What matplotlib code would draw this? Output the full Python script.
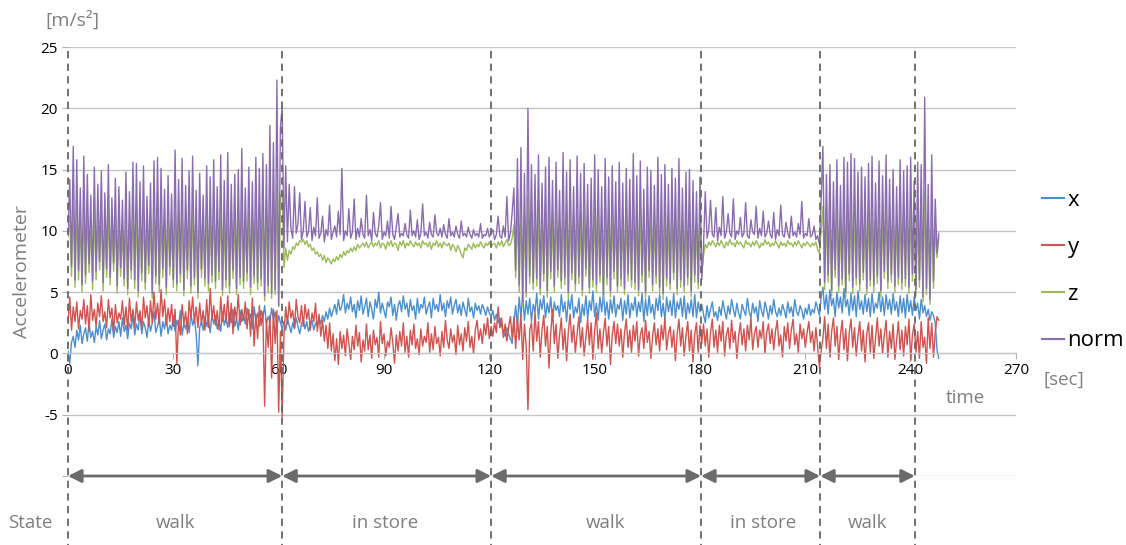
import numpy as np
import matplotlib
matplotlib.use("Agg")
import matplotlib.pyplot as plt
from matplotlib.lines import Line2D

plt.rcParams["font.family"] = ["Open Sans", "DejaVu Sans"]

STEP = 0.5  # seconds between samples

# accelerometer readings, one value every 0.5 s (t = 0 .. 248 s)
acc_x = [
    0.2, -0.8, 0.9, 1.4, 0.5, 1.9, 1.1, 2.3, 0.8, 1.6, 2.1, 1.0, 2.5, 1.3, 1.8, 0.9, 2.2, 1.5, 2.7, 1.2,
    1.9, 2.4, 1.1, 2.0, 1.6, 2.8, 1.3, 2.2, 1.7, 2.6, 1.4, 2.9, 1.8, 2.3, 1.2, 2.5, 2.0, 3.1, 1.5, 2.4,
    1.9, 3.3, 1.6, 2.6, 2.1, 1.3, 2.8, 1.8, 2.5, 3.4, 1.7, 2.2, 2.9, 1.4, 2.6, 2.0, 3.0, 1.6, 2.3, 1.9,
    3.1, 1.8, 2.7, 2.2, 3.5, 1.5, 2.4, 2.0, 2.9, 1.7, 3.2, 2.3, 2.8, 1.6, -1.0, 2.1, 2.6, 1.9, 3.0, 2.2,
    2.8, 1.7, 3.2, 2.4, 3.1, 2.0, 2.7, 1.8, 3.4, 2.3, 2.9, 2.1, 3.3, 2.5, 3.6, 2.2, 2.8, 1.9, 3.5, 2.6,
    3.1, 2.4, 3.7, 2.8, 3.2, 2.0, 3.8, 2.7, 3.3, 2.2, 3.5, 2.9, 3.9, 2.4, 3.0, 2.6, 3.7, 2.8, 3.4, 2.1,
    3.1, 2.5, 2.0,
    2.6, 1.9, 2.8, 2.3, 1.7, 2.5, 2.0, 2.9, 2.2, 1.6, 2.4, 2.8, 2.0, 2.6, 1.8, 2.3, 2.7, 1.9, 2.5, 2.2,
    2.9, 2.4, 3.1, 2.6, 3.4, 2.8, 3.7, 3.0, 3.5, 4.0, 3.2, 4.4, 3.5, 3.9, 4.8, 3.3, 4.1, 3.6, 4.6, 3.4,
    4.0, 2.9, 4.3, 3.5, 4.7, 3.2, 3.8, 4.5, 3.0, 4.2, 3.6, 2.8, 4.4, 3.7, 5.0, 3.3, 4.1, 3.5, 2.9, 4.2,
    3.8, 4.6, 3.1, 4.0, 2.7, 3.9, 4.3, 3.4, 4.7, 3.6, 4.1, 3.0, 4.4, 3.5, 3.9, 2.8, 4.5, 3.3, 4.0, 3.7,
    4.6, 3.2, 3.8, 4.2, 2.9, 4.5, 3.6, 4.0, 3.4, 4.8, 3.5, 4.1, 3.0, 4.3, 3.7, 4.6, 3.2, 3.9, 4.4, 3.3,
    4.0, 3.1, 4.2, 3.6, 3.0, 4.5, 3.4, 3.8, 2.9, 4.1, 3.5, 3.9, 3.2, 4.0, 3.6, 3.1, 3.8, 3.3, 3.0, 3.5,
    2.7, 3.2, 2.5, 2.9, 2.2, 1.8, 1.4, 2.1, 1.6, 1.2, 0.8,
    2.5, 3.9, 2.2, 4.6, 3.0, 4.8, 2.7, 4.3, 3.2, 4.5, 2.6, 4.0, 3.4, 4.9, 2.8, 4.4, 3.6, 4.7, 2.9, 4.1,
    3.3, 4.6, 2.7, 4.2, 3.5, 3.9, 3.0, 4.8, 3.4, 4.2, 2.6, 4.4, 3.6, 4.8, 2.9, 3.8, 3.3, 4.5, 2.5, 4.0,
    3.1, 4.7, 2.8, 4.3, 3.5, 5.1, 3.0, 4.1, 2.7, 4.6, 3.4, 4.9, 3.1, 4.2, 2.8, 4.4, 3.3, 4.7, 3.0, 4.0,
    3.6, 4.5, 2.7, 4.3, 3.2, 4.8, 2.9, 4.1, 3.5, 4.6, 3.0, 4.2, 3.4, 4.9, 2.6, 4.4, 3.1, 4.7, 3.3, 4.0,
    2.8, 4.5, 3.5, 4.8, 3.0, 4.1, 2.7, 4.6, 3.4, 4.3, 3.1, 4.9, 2.9, 4.2, 3.6, 4.5, 3.0, 4.7, 2.8, 4.1,
    3.3, 4.4, 3.0, 4.8, 2.9, 4.2, 3.4, 4.0,
    3.2, 2.5, 3.9, 2.9, 3.6, 4.2, 3.0, 3.4, 2.7, 3.8, 3.1, 4.3, 3.5, 2.8, 3.9, 3.2, 4.4, 3.6, 3.0, 4.1,
    3.3, 2.8, 4.0, 3.5, 3.1, 4.5, 3.4, 2.9, 4.1, 3.3, 3.8, 2.6, 4.3, 3.5, 3.0, 4.2, 3.6, 2.8, 3.9, 3.2,
    4.4, 3.4, 3.0, 3.7, 3.1, 4.0, 3.5, 2.9, 4.2, 3.3, 3.8, 3.0, 4.4, 3.4, 3.1, 3.9, 3.5, 2.8, 3.7, 3.2,
    4.0, 3.1, 3.6, 3.3, 4.2, 3.7, 3.1,
    4.6, 5.4, 3.6, 4.8, 3.2, 5.2, 3.9, 4.5, 3.0, 5.0, 3.7, 4.6, 3.3, 5.3, 3.8, 4.4, 3.1, 4.9, 3.5, 4.7,
    3.0, 5.1, 3.6, 4.3, 3.2, 4.8, 3.4, 4.5, 3.0, 4.9, 3.3, 4.1, 3.7, 5.0, 3.4, 4.6, 3.1, 4.8, 3.6, 4.4,
    3.2, 4.9, 3.5, 4.2, 3.0, 4.7, 3.3, 4.5, 2.9, 4.8, 3.4, 4.3, 3.1, 4.6, 3.5, 4.1, 2.8, 4.4, 3.3, 3.9,
    3.0, 3.6, 2.7, 3.4, 3.1, 2.5, 0.3, -0.4]

acc_y = [
    2.5, 4.6, 1.9, 3.8, 2.6, 4.2, 2.0, 3.5, 2.8, 4.4, 2.4, 3.9, 1.8, 4.8, 2.7, 3.6, 2.2, 4.1, 3.0, 4.7,
    2.6, 3.4, 2.1, 4.4, 2.9, 3.7, 1.7, 4.0, 2.5, 3.3, 2.8, 4.3, 2.3, 3.8, 1.9, 4.5, 2.6, 3.6, 2.1, 4.2,
    2.7, 3.5, 2.0, 4.6, 2.9, 3.9, 2.2, 4.3, 2.5, 5.0, 2.8, 4.1, 2.4, 5.2, 3.0, 4.4, 2.3, 3.7, 2.6, 4.0,
    2.2, 3.6, -0.8, 2.7, 1.5, 4.0, 2.4, 3.4, 1.6, 4.3, 2.9, 4.6, 2.5, 3.8, 2.1, 4.1, 2.4, 3.5, 1.9, 4.4,
    2.1, 5.3, 2.8, 3.9, 2.3, 3.5, 1.9, 4.6, 2.6, 4.0, 2.5, 4.7, 2.2, 4.1, 1.6, 3.8, 2.7, 4.8, 2.3, 3.6,
    2.7, 4.2, 2.0, 3.6, 1.4, 4.5, 0.6, 3.2, 1.2, 3.9, 2.3, 3.4, -4.3, 2.8, 0.5, 3.1, -2.0, 3.6, 0.8, 3.5,
    -4.8, 1.8, -5.2,
    1.5, 3.8, 2.4, 4.2, 2.9, 3.5, 2.1, 4.4, 3.0, 2.5, 3.9, 2.2, 4.0, 2.8, 3.6, 1.9, 3.3, 2.6, 4.1, 1.8,
    3.2, 1.4, 2.7, 1.0, 2.3, 0.4, 2.5, 0.2, 1.6, -0.6, 1.2, -0.9, 1.8, 0.4, 1.5, -0.2, 2.0, 0.8, -0.5, 1.4,
    0.3, 2.3, 0.6, 1.7, -0.7, 1.1, 0.2, 2.4, 0.3, 1.5, -0.4, 1.9, 0.7, 1.3, -0.3, 2.6, 0.8, 1.6, -0.2, 1.0,
    0.5, 2.1, 0.9, -0.8, 1.5, 0.2, 1.8, 0.6, 2.5, 0.1, 1.4, -0.3, 1.9, 0.7, 2.4, 0.4, 1.2, -0.1, 2.0, 0.6,
    1.4, 0.9, 2.5, 0.1, 1.6, 0.3, 2.2, 0.8, 1.3, -0.2, 1.8, 0.5, 2.7, 1.1, 0.4, 2.0, 0.9, 1.5, -0.1, 2.3,
    0.7, 1.6, 0.2, 2.1, 1.0, 2.6, 0.5, 1.4, 0.0, 1.9, 2.7, 1.1, 2.0, 0.8, 2.4, 1.5, 2.9, 1.2, 2.2, 1.4,
    2.5, 1.7, 3.8, 2.1, 2.9, 1.3, 2.4, 1.0, 2.2, 3.0, 1.2,
    3.0, 0.4, 2.8, 1.1, 3.2, -0.5, 2.4, 0.6, -4.6, 1.9, 2.5, 0.2, 3.4, 1.0, 2.6, -0.3, 1.9, 3.1, 0.6, 2.2,
    -1.2, 1.7, 3.6, 0.8, 2.4, -0.4, 1.5, 2.9, 0.3, 2.0, -0.6, 1.8, 3.2, 0.9, 2.3, 0.1, 1.6, 3.0, 0.5, 2.1,
    -0.2, 1.4, 2.8, 0.7, 2.5, -0.5, 1.9, 3.3, 0.4, 2.0, 0.0, 1.7, 2.9, 0.6, 2.2, -0.9, 1.5, 2.6, 0.8, 2.4,
    0.6, 2.0, -0.3, 1.7, 2.8, 0.5, 1.9, 0.1, 2.3, 1.0, 2.6, -0.2, 1.5, 2.1, 0.4, 2.7, 0.9, 1.8, -0.4, 1.4,
    2.5, 0.7, 2.0, 0.2, 2.3, 1.1, 2.9, 0.3, 1.6, 2.2, 0.5, 1.9, -0.6, 1.6, 2.8, 0.6, 2.1, -0.2, 1.4, 2.6,
    0.2, 1.9, -0.7, 1.6, 2.5, 0.1, 2.3, 0.8,
    2.4, 0.6, 2.0, -0.3, 1.7, 2.8, 0.5, 1.9, 0.1, 2.3, 1.0, 2.6, -0.2, 1.5, 2.1, 0.4, 2.7, 0.9, 1.8, -0.4,
    1.4, 2.5, 0.7, 2.0, 0.2, 2.3, 1.1, 2.9, 0.3, 1.6, 2.2, 0.5, 1.9, 1.2, 2.6, 0.0, 1.7, 2.4, 0.8, 2.0,
    0.3, 1.8, 2.7, 0.6, 1.5, -0.3, 2.2, 1.0, 2.5, 0.4, 1.9, 2.8, 0.7, 1.6, 0.1, 2.4, 1.2, 2.0, 0.5, 1.7,
    2.6, 0.9, 1.8, 0.2, 2.1, 0.6, -1.1,
    0.2, 1.2, 3.0, 0.4, 2.4, -0.3, 1.8, 2.9, 0.6, 2.2, -0.5, 1.5, 2.7, 0.3, 2.0, -0.6, 1.7, 2.8, 0.5, 2.1,
    -0.2, 1.4, 2.6, 0.2, 1.9, -0.7, 1.6, 2.5, 0.1, 2.3, -0.4, 1.3, 2.9, 0.6, 2.0, 0.0, 1.5, 2.7, -0.3, 1.8,
    0.4, 2.4, -0.5, 1.1, 2.6, 0.3, 1.9, -0.2, 2.2, 0.7, 2.8, -0.6, 1.5, 2.4, 0.1, 1.8, -0.4, 2.6, 0.5, 1.3,
    -0.8, 2.9, 0.4, 2.5, -0.3, 1.7, 3.0, 2.7]

acc_z = [
    9.5, 11.2, 6.3, 12.1, 5.4, 11.8, 6.0, 10.9, 5.0, 11.9, 5.7, 11.3, 6.6, 10.5, 5.2, 11.6, 6.0, 10.8, 6.8, 11.4,
    5.1, 10.6, 6.2, 11.7, 5.6, 10.3, 6.7, 11.1, 4.9, 10.7, 6.3, 10.2, 5.5, 11.4, 4.8, 10.5, 6.1, 11.9, 5.3, 11.8,
    4.6, 11.0, 5.9, 11.6, 5.2, 10.4, 6.5, 10.9, 4.5, 12.0, 5.7, 12.2, 5.0, 11.5, 6.2, 10.6, 4.8, 11.2, 6.4, 10.4,
    5.4, 12.4, 5.1, 11.0, 5.8, 12.0, 4.7, 10.8, 6.1, 11.4, 4.9, 12.1, 5.6, 10.6, 4.5, 11.3, 6.2, 10.3, 5.5, 11.7,
    5.1, 11.1, 5.8, 12.0, 5.3, 10.7, 6.0, 12.2, 4.7, 11.0, 5.4, 12.3, 4.9, 10.9, 6.1, 11.3, 4.8, 11.5, 5.6, 12.4,
    5.3, 10.6, 5.9, 11.6, 4.8, 11.0, 5.7, 12.1, 5.2, 11.5, 5.5, 12.2, 4.3, 11.7, 5.0, 13.0, 4.5, 12.4, 4.8, 13.8,
    3.8, 12.9, 13.2,
    7.0, 8.6, 7.6, 8.4, 8.1, 8.7, 8.5, 9.0, 8.8, 9.2, 9.1, 9.3, 8.9, 9.2, 8.7, 8.9, 8.4, 8.6, 8.1, 8.3,
    7.9, 8.1, 7.6, 8.0, 7.4, 7.8, 7.6, 7.3, 7.7, 7.5, 7.9, 7.6, 8.1, 7.8, 8.3, 8.0, 8.4, 8.2, 8.6, 8.3,
    8.7, 8.4, 8.9, 8.6, 8.8, 9.0, 8.7, 9.1, 8.6, 8.9, 9.1, 8.7, 9.0, 8.8, 9.2, 8.6, 9.0, 8.9, 8.5, 9.1,
    8.8, 9.2, 8.7, 9.0, 8.9, 8.4, 9.1, 8.8, 9.2, 8.6, 9.0, 8.8, 9.2, 8.9, 8.7, 9.1, 8.8, 9.0, 8.6, 9.2,
    8.9, 9.0, 8.7, 9.1, 8.5, 9.0, 8.8, 9.2, 8.7, 9.0, 8.6, 9.1, 8.9, 8.8, 9.0, 8.4, 8.9, 8.7, 8.3, 8.8,
    8.5, 8.1, 7.8, 8.6, 8.4, 8.9, 8.7, 8.5, 9.0, 8.6, 8.9, 8.7, 9.1, 8.8, 8.6, 9.0, 8.8, 9.1, 8.7, 8.9,
    9.0, 8.6, 9.1, 8.8, 9.2, 8.7, 9.0, 9.3, 8.8, 8.9, 9.4,
    10.5, 6.2, 11.8, 5.0, 12.0, 3.9, 11.3, 4.6, 12.8, 5.7, 11.6, 5.2, 11.0, 5.5, 12.1, 4.8, 10.7, 5.9, 11.5, 4.6,
    12.0, 6.1, 10.9, 5.0, 11.7, 6.2, 10.4, 5.3, 12.1, 5.6, 11.3, 4.5, 11.8, 6.0, 10.6, 5.1, 12.0, 5.7, 11.2, 4.7,
    11.6, 6.3, 10.8, 4.9, 11.0, 5.4, 12.1, 5.0, 11.4, 5.8, 10.6, 4.3, 11.9, 5.6, 11.1, 4.6, 11.5, 6.1, 10.8, 5.0,
    11.7, 5.5, 10.9, 4.8, 11.4, 5.9, 11.0, 5.4, 12.2, 5.2, 11.2, 4.7, 11.8, 5.8, 10.5, 4.5, 11.5, 6.2, 11.3, 5.1,
    10.7, 5.7, 12.0, 4.9, 11.1, 4.4, 11.6, 5.5, 10.8, 5.2, 11.4, 6.0, 11.0, 4.8, 11.9, 5.4, 10.6, 5.0, 11.3, 5.6,
    11.4, 4.6, 10.9, 5.8, 10.4, 5.3, 11.1, 6.5,
    8.0, 8.9, 8.6, 9.1, 8.8, 9.2, 9.0, 8.7, 9.1, 8.8, 9.2, 8.9, 8.6, 9.1, 8.8, 9.3, 8.9, 9.0, 8.7, 9.2,
    8.9, 9.1, 8.8, 8.6, 9.2, 8.9, 9.0, 8.7, 9.1, 8.8, 9.2, 8.9, 8.6, 9.0, 8.8, 9.3, 8.9, 9.1, 8.7, 9.0,
    8.8, 9.2, 8.9, 8.6, 9.1, 8.8, 9.0, 8.7, 9.2, 8.9, 9.0, 8.7, 9.1, 8.8, 9.2, 8.9, 8.6, 9.0, 8.8, 9.1,
    8.9, 8.7, 9.0, 8.8, 9.1, 8.5, 8.2,
    10.0, 12.0, 5.2, 11.2, 5.8, 11.6, 4.7, 10.8, 6.2, 11.7, 5.0, 10.6, 5.6, 11.8, 4.5, 11.5, 5.9, 12.0, 4.9, 11.7,
    5.6, 11.3, 5.1, 11.4, 6.0, 11.0, 4.8, 11.6, 5.5, 11.9, 5.0, 10.7, 5.7, 11.7, 4.6, 11.2, 6.1, 12.0, 5.3, 11.0,
    5.8, 11.5, 5.0, 10.5, 5.6, 11.8, 5.2, 11.4, 5.5, 11.6, 4.9, 11.9, 5.9, 10.9, 4.7, 11.6, 5.4, 11.5, 4.2, 13.2,
    4.8, 10.8, 4.0, 12.0, 5.3, 10.2, 7.8, 9.5]

acc_norm = [
    9.8, 14.2, 7.1, 16.9, 6.0, 15.8, 6.8, 13.5, 5.6, 16.1, 6.4, 14.6, 7.3, 12.9, 5.9, 15.2, 6.7, 13.8, 7.5, 14.9,
    5.8, 13.1, 6.9, 15.4, 6.2, 12.7, 7.4, 14.3, 5.5, 13.6, 7.0, 12.5, 6.1, 14.8, 5.3, 13.2, 6.8, 15.6, 6.0, 15.5,
    5.1, 14.0, 6.6, 15.3, 5.8, 12.8, 7.2, 13.9, 4.9, 15.7, 6.3, 16.0, 5.6, 15.1, 6.9, 13.4, 5.4, 14.5, 7.1, 13.0,
    6.0, 16.6, 5.7, 14.2, 6.5, 15.9, 5.2, 13.7, 6.8, 14.9, 5.5, 16.1, 6.2, 13.3, 5.0, 14.7, 6.9, 12.9, 6.1, 15.3,
    5.7, 14.4, 6.4, 15.8, 5.9, 13.6, 6.7, 16.2, 5.2, 14.1, 6.0, 16.4, 5.5, 13.8, 6.8, 14.6, 5.3, 15.0, 6.2, 16.7,
    5.9, 13.5, 6.6, 15.2, 5.4, 14.0, 6.3, 16.0, 5.8, 15.1, 6.1, 16.3, 4.7, 15.4, 5.5, 18.6, 4.9, 17.2, 5.2, 22.3,
    3.9, 18.4, 20.2,
    8.6, 15.3, 9.1, 13.8, 10.2, 9.4, 13.6, 9.8, 10.6, 13.1, 9.3, 10.0, 12.4, 9.5, 9.9, 11.9, 9.2, 10.3, 9.6, 12.7,
    9.4, 9.8, 11.2, 9.1, 10.1, 9.6, 12.1, 9.3, 9.9, 10.4, 9.5, 11.6, 9.7, 15.1, 9.2, 10.0, 9.6, 11.8, 9.4, 9.9,
    12.6, 9.3, 10.2, 9.5, 11.0, 9.7, 9.4, 12.9, 9.6, 10.1, 9.2, 11.5, 9.8, 9.5, 10.4, 12.3, 9.3, 9.9, 9.6, 10.8,
    9.4, 12.0, 9.7, 9.3, 10.3, 11.4, 9.5, 9.8, 9.6, 10.6, 9.7, 9.4, 11.7, 9.6, 10.0, 9.5, 10.9, 9.3, 9.8, 12.2,
    9.6, 9.9, 9.4, 10.7, 9.7, 9.5, 11.3, 9.8, 9.6, 10.2, 9.5, 10.5, 9.7, 9.4, 11.0, 9.6, 9.9, 9.5, 10.4, 9.7,
    9.4, 10.8, 9.6, 9.8, 9.5, 10.3, 9.7, 9.4, 10.1, 9.6, 9.8, 9.5, 10.6, 9.4, 9.7, 9.6, 10.2, 9.5, 9.8, 10.1,
    9.3, 9.7, 11.2, 9.6, 9.4, 10.4, 9.5, 12.8, 9.2, 9.8, 11.5,
    13.5, 6.8, 15.9, 5.6, 16.8, 4.2, 14.7, 5.0, 20.0, 6.3, 15.4, 5.8, 14.6, 6.1, 16.2, 5.3, 13.9, 6.5, 15.2, 5.1,
    16.0, 6.7, 14.1, 5.5, 15.6, 6.8, 13.3, 5.9, 16.4, 6.2, 14.8, 5.0, 15.8, 6.6, 13.6, 5.7, 16.1, 6.3, 14.7, 5.2,
    15.5, 6.9, 13.8, 5.4, 14.3, 6.0, 16.2, 5.6, 15.0, 6.4, 13.6, 4.8, 15.9, 6.2, 14.4, 5.1, 15.3, 6.7, 14.0, 5.5,
    15.6, 6.1, 13.9, 5.3, 15.1, 6.5, 14.2, 6.0, 16.3, 5.8, 14.5, 5.2, 15.7, 6.4, 13.4, 5.0, 15.2, 6.8, 14.9, 5.6,
    13.7, 6.3, 16.0, 5.4, 14.6, 4.9, 15.4, 6.1, 13.8, 5.7, 15.1, 6.6, 14.3, 5.3, 15.9, 6.0, 13.5, 5.5, 14.8, 6.2,
    15.0, 5.1, 14.1, 6.4, 13.2, 5.8, 14.4, 6.0,
    8.8, 13.2, 9.4, 10.1, 12.5, 9.7, 9.5, 11.9, 9.2, 10.3, 9.6, 12.8, 9.4, 9.9, 11.4, 9.8, 9.5, 12.6, 9.3, 10.0,
    9.7, 11.1, 9.5, 9.8, 12.3, 9.6, 9.4, 10.9, 9.9, 9.7, 12.0, 9.4, 10.2, 9.6, 11.6, 9.5, 9.8, 10.8, 9.7, 9.4,
    11.5, 9.3, 10.1, 9.6, 12.1, 9.7, 9.5, 10.7, 9.8, 9.4, 11.2, 9.6, 9.9, 9.5, 10.6, 9.7, 12.4, 9.4, 9.8, 9.6,
    11.0, 9.5, 9.7, 10.4, 9.3, 9.6, 8.9,
    12.5, 16.9, 5.8, 14.6, 6.4, 15.4, 5.2, 14.0, 6.8, 15.8, 5.5, 13.7, 6.1, 16.0, 5.0, 15.6, 6.5, 16.3, 5.4, 15.9,
    6.2, 14.8, 5.7, 15.2, 6.6, 14.4, 5.3, 15.5, 6.0, 16.1, 5.6, 13.9, 6.3, 15.7, 5.1, 14.5, 6.7, 16.2, 5.9, 14.2,
    6.4, 15.0, 5.5, 13.6, 6.2, 15.8, 5.8, 14.9, 6.1, 15.3, 5.4, 16.0, 6.5, 14.1, 5.2, 15.6, 6.0, 15.4, 4.6, 20.9,
    5.3, 13.8, 4.4, 16.2, 5.9, 12.6, 8.2, 9.8]

series = [("x", acc_x, "#4a8fd1"), ("y", acc_y, "#d0534d"),
          ("z", acc_z, "#9bbb59"), ("norm", acc_norm, "#8a6cb0")]

# state boundaries [sec] and labels
bounds = [0, 61, 120.5, 180.3, 214.2, 241.2]
states = ["walk", "in store", "walk", "in store", "walk"]
state_x = [30.5, 90.3, 153, 198, 227.6]

gray = "#7f7f7f"

fig = plt.figure(figsize=(11.26, 5.45), dpi=100)
ax = fig.add_axes([68 / 1126, 1 - 476 / 545, 948 / 1126, 429 / 545])

for name, vals, col in series:
    t = np.arange(len(vals)) * STEP
    ax.plot(t, vals, color=col, lw=1.0, label=name)

ax.set_xlim(0, 270)
ax.set_ylim(-10, 25)
ax.set_xticks(range(0, 271, 30))
ax.set_yticks(range(-10, 26, 5))
ax.set_yticklabels([""] + [str(v) for v in range(-5, 26, 5)])
ax.grid(axis="y", color="#c4c4c4", lw=1)
ax.set_axisbelow(True)
for s in ["top", "right", "left"]:
    ax.spines[s].set_visible(False)
ax.spines["bottom"].set_position(("data", 0))
ax.spines["bottom"].set_color("#c4c4c4")
ax.tick_params(axis="both", colors="#b0b0b0", length=4, labelcolor="black", labelsize=11)
ax.tick_params(axis="x", pad=3)

# state separators
for b in bounds:
    ax.plot([b, b], [24.7, -16], ls=(0, (4, 3)), color="#666666", lw=1.3, clip_on=False, zorder=5)

# state arrows
for a, b in zip(bounds[:-1], bounds[1:]):
    ax.annotate("", xy=(b, -10), xytext=(a, -10),
                arrowprops=dict(arrowstyle="<|-|>", color="#6b6b6b", lw=2,
                                mutation_scale=20, shrinkA=0, shrinkB=0), zorder=6)

for sx, st in zip(state_x, states):
    ax.text(sx, -13.8, st, ha="center", va="center", fontsize=13.5, color=gray, clip_on=False)
ax.text(-17, -13.8, "State", ha="left", va="center", fontsize=13.5, color=gray, clip_on=False)

fig.text(45 / 1126, 1 - 20 / 545, "[m/s²]", ha="left", va="center", fontsize=14, color=gray)
fig.text(22 / 1126, 1 - 272 / 545, "Accelerometer", ha="center", va="center",
         rotation=90, fontsize=14, color=gray)
fig.text(1064 / 1126, 1 - 380 / 545, "[sec]", ha="center", va="center", fontsize=13.5, color=gray)
fig.text(965 / 1126, 1 - 398 / 545, "time", ha="center", va="center", fontsize=13.5, color=gray)

handles = [Line2D([], [], color=c, lw=1.5) for _, _, c in series]
fig.legend(handles, [n for n, _, _ in series], loc="upper left",
           bbox_to_anchor=(1022 / 1126, 1 - 170 / 545), frameon=False, fontsize=16,
           handlelength=1.0, labelspacing=1.16, handletextpad=0.15)

fig.savefig("out.png", dpi=100)
